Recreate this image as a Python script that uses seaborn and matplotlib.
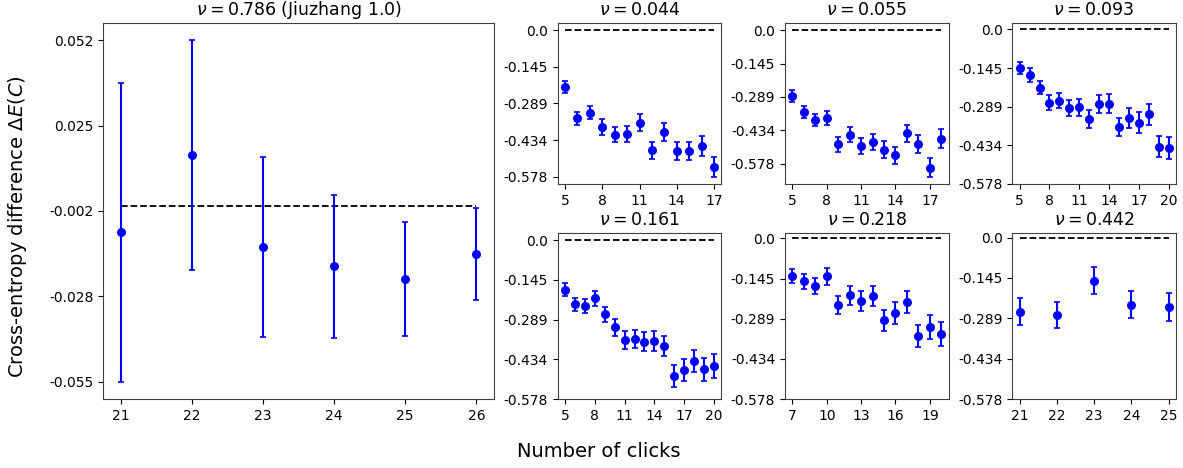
import numpy as np
import pandas as pd
import matplotlib
matplotlib.use("Agg")
import matplotlib.pyplot as plt
import seaborn as sns

# ---------------- data ----------------
big_title = r"$\nu = 0.786$ (Jiuzhang 1.0)"
big_x = [21, 22, 23, 24, 25, 26]
big_y = [-0.0082, 0.0160, -0.0127, -0.0188, -0.0229, -0.0150]
big_err = [0.0468, 0.0360, 0.0282, 0.0224, 0.0178, 0.0145]
big_yticks = [-0.055, -0.02825, -0.0015, 0.02525, 0.052]
big_ytick_labels = ["-0.055", "-0.028", "-0.002", "0.025", "0.052"]

titles = [r"$\nu = 0.044$", r"$\nu = 0.055$", r"$\nu = 0.093$",
          r"$\nu = 0.161$", r"$\nu = 0.218$", r"$\nu = 0.442$"]

x_044 = list(range(5, 18))
y_044 = [-0.223, -0.348, -0.326, -0.382, -0.412, -0.411, -0.365, -0.474,
         -0.402, -0.477, -0.476, -0.458, -0.539]
e_044 = [0.023, 0.025, 0.026, 0.030, 0.030, 0.031, 0.033, 0.033,
         0.035, 0.037, 0.036, 0.039, 0.039]

x_055 = list(range(5, 19))
y_055 = [-0.285, -0.354, -0.390, -0.381, -0.495, -0.452, -0.500, -0.486,
         -0.518, -0.542, -0.447, -0.492, -0.595, -0.470]
e_055 = [0.0245, 0.026, 0.027, 0.029, 0.032, 0.032, 0.0345, 0.0345,
         0.036, 0.038, 0.038, 0.039, 0.0395, 0.0417]

x_093 = list(range(5, 21))
y_093 = [-0.146, -0.170, -0.218, -0.275, -0.267, -0.295, -0.2915, -0.334,
         -0.279, -0.278, -0.365, -0.332, -0.3485, -0.3175, -0.438, -0.443]
e_093 = [0.0223, 0.025, 0.025, 0.028, 0.0285, 0.030, 0.031, 0.0335,
         0.034, 0.035, 0.035, 0.037, 0.0385, 0.0385, 0.040, 0.0415]

x_161 = list(range(5, 21))
y_161 = [-0.180, -0.2335, -0.238, -0.211, -0.270, -0.316, -0.364, -0.359,
         -0.369, -0.367, -0.385, -0.493, -0.472, -0.440, -0.469, -0.457]
e_161 = [0.023, 0.0235, 0.025, 0.028, 0.0285, 0.031, 0.033, 0.033,
         0.0345, 0.035, 0.0375, 0.040, 0.040, 0.041, 0.042, 0.043]

x_218 = list(range(7, 21))
y_218 = [-0.135, -0.154, -0.171, -0.1365, -0.241, -0.205, -0.224, -0.208,
         -0.294, -0.268, -0.229, -0.351, -0.319, -0.344]
e_218 = [0.0265, 0.0277, 0.029, 0.030, 0.0326, 0.034, 0.0357, 0.0357,
         0.0375, 0.039, 0.040, 0.041, 0.042, 0.043]

x_442 = [21, 22, 23, 24, 25]
y_442 = [-0.265, -0.277, -0.1546, -0.2405, -0.249]
e_442 = [0.048, 0.048, 0.0485, 0.0485, 0.049]

small_xticks = [[5, 8, 11, 14, 17], [5, 8, 11, 14, 17], [5, 8, 11, 14, 17, 20],
                [5, 8, 11, 14, 17, 20], [7, 10, 13, 16, 19], [21, 22, 23, 24, 25]]
small_yticks = [-0.578, -0.4335, -0.289, -0.1445, 0.0]
small_ytick_labels = ["-0.578", "-0.434", "-0.289", "-0.145", "0.0"]

small_data = [(x_044, y_044, e_044), (x_055, y_055, e_055), (x_093, y_093, e_093),
              (x_161, y_161, e_161), (x_218, y_218, e_218), (x_442, y_442, e_442)]

# ---------------- figure ----------------
plt.rcParams["font.family"] = ["DejaVu Sans"]
plt.rcParams["mathtext.fontset"] = "dejavusans"
plt.rcParams["axes.edgecolor"] = "#404040"

fig = plt.figure(figsize=(11.83, 4.68), dpi=100)
gs = fig.add_gridspec(2, 5, left=0.0871, right=0.9941, top=0.951, bottom=0.1474,
                      wspace=0.388, hspace=0.30, height_ratios=[161, 166])

TICK_FS = 10
TITLE_FS = 12.5


def draw_panel(ax, xs, ys, es, ms=6.5):
    df = pd.DataFrame({"x": xs, "y": ys})
    ax.errorbar(xs, ys, yerr=es, fmt="none", ecolor="blue", elinewidth=1.5,
                capsize=2.5, capthick=1.2, zorder=2)
    sns.scatterplot(data=df, x="x", y="y", ax=ax, color="blue", s=ms ** 2,
                    linewidth=0, zorder=3, legend=False)
    ax.plot([xs[0], xs[-1]], [0, 0], "k--", lw=1.3, zorder=1)
    ax.set_xlabel("")
    ax.set_ylabel("")
    ax.tick_params(labelsize=TICK_FS)


# big panel
axb = fig.add_subplot(gs[:, 0:2])
draw_panel(axb, big_x, big_y, big_err)
axb.set_xticks(big_x)
axb.set_yticks(big_yticks)
axb.set_yticklabels(big_ytick_labels)
axb.set_title(big_title, fontsize=TITLE_FS)

# small panels
positions = [(0, 2), (0, 3), (0, 4), (1, 2), (1, 3), (1, 4)]
for (r, c), title, (xs, ys, es), xt in zip(positions, titles, small_data, small_xticks):
    ax = fig.add_subplot(gs[r, c])
    draw_panel(ax, xs, ys, es)
    ax.set_xticks(xt)
    ax.set_yticks(small_yticks)
    ax.set_yticklabels(small_ytick_labels)
    ax.set_title(title, fontsize=TITLE_FS)

fig.text(0.015, 0.515, r"Cross-entropy difference $\Delta E(C)$", rotation=90,
         ha="center", va="center", fontsize=14)
fig.text(0.506, 0.036, "Number of clicks", ha="center", va="center", fontsize=14)

fig.savefig("out.png", dpi=100)
